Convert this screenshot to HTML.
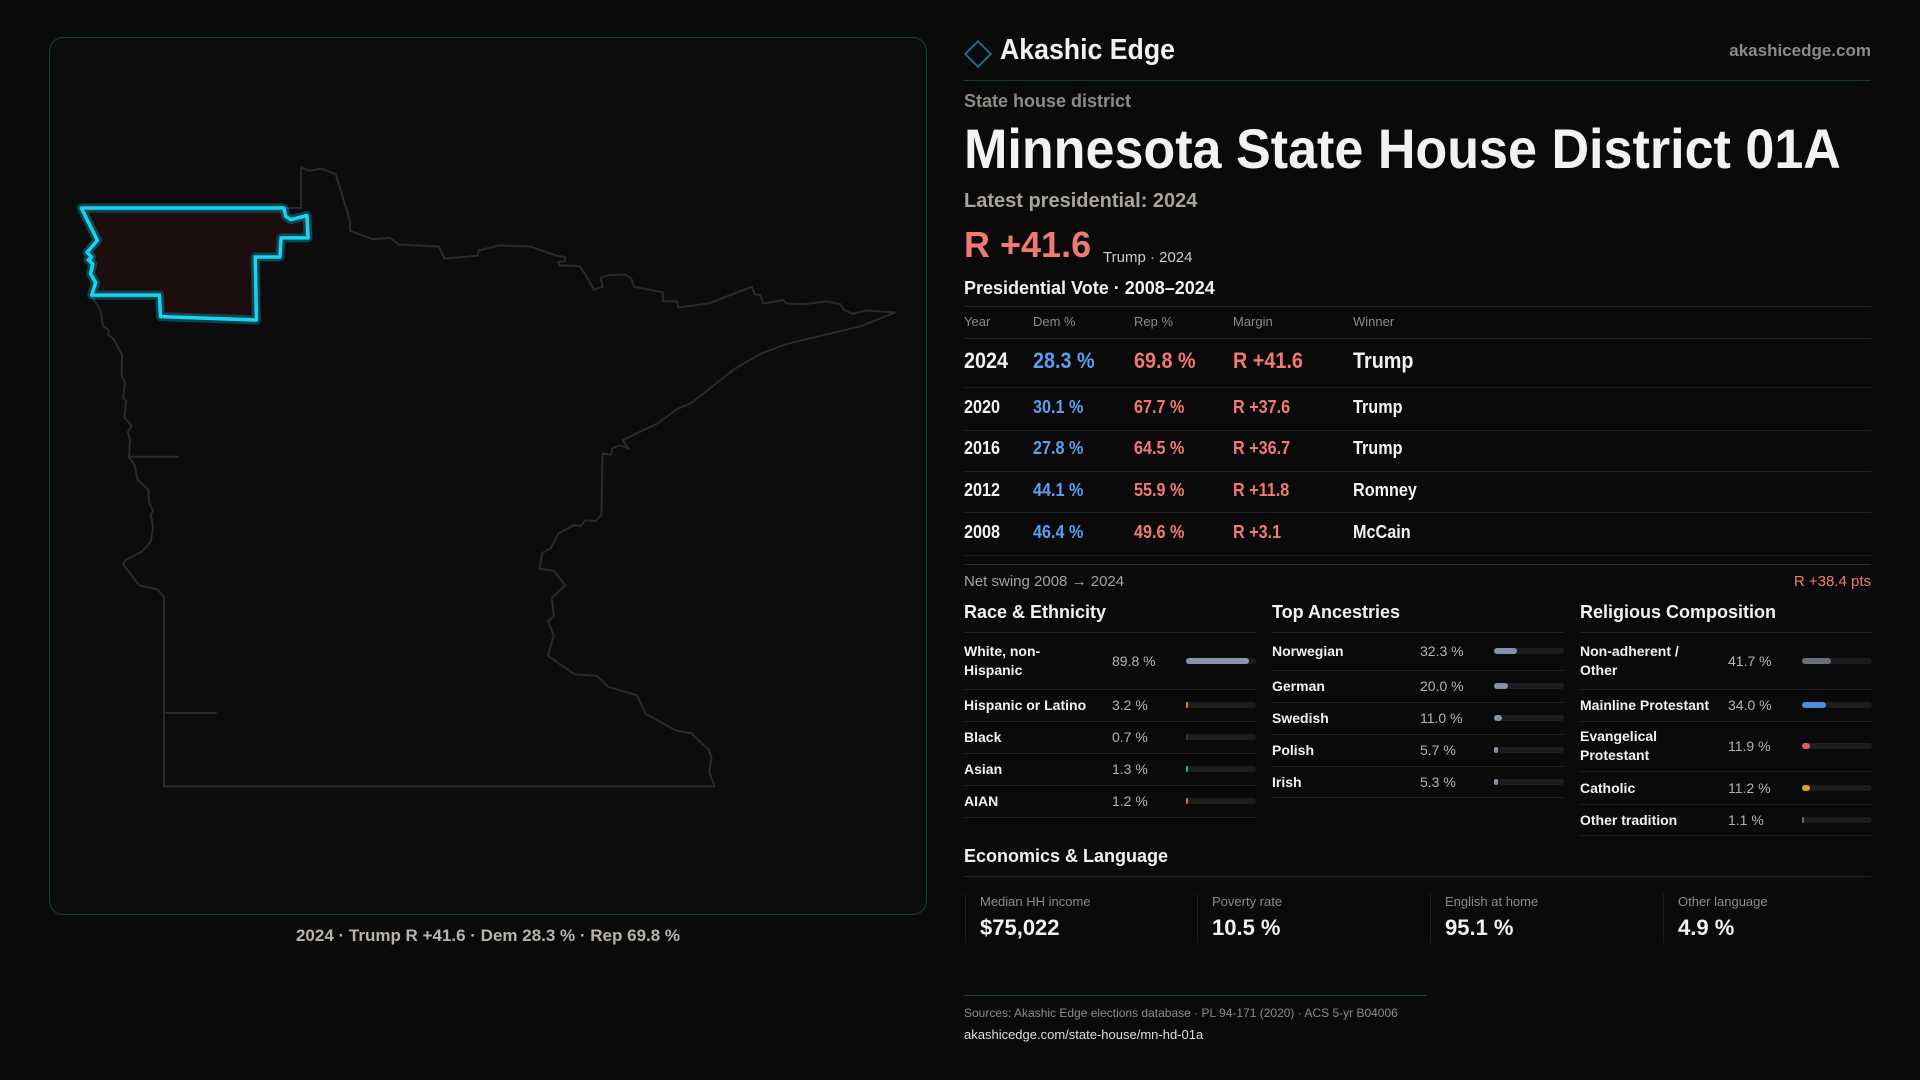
<!DOCTYPE html>
<html><head><meta charset="utf-8">
<style>
*{margin:0;padding:0;box-sizing:border-box}
body{width:1920px;height:1080px;background:#0a0a0b;font-family:"Liberation Sans",sans-serif;color:#f2f2f2;position:relative;overflow:hidden}
.a{position:absolute;white-space:nowrap}
.g{color:#a9a39d}
.red{color:#f07a72}.blue{color:#5aa0f0}
.hl{position:absolute;height:1px;background:#232326}
</style></head><body>
<div class="a" style="left:49px;top:37px;width:878px;height:878px;border:1px solid rgba(40,170,190,0.35);border-radius:14px;background:#0c0c0d"></div>
<svg class="a" style="left:0;top:0" width="1920" height="1080">
<g transform="translate(40,150) scale(0.574,0.4146)">
<path vector-effect="non-scaling-stroke" fill="none" stroke="#2a2a2c" stroke-width="2" d="M75,140 L455,140 L455,42 L470,50 L490,45 L515,58 L540,170 L540,195 L580,215 L610,212 L625,228 L695,233 L705,262 L762,255 L765,242 L800,230 L855,233 L900,255 L915,258 L915,268 L903,270 L905,278 L940,280 L950,300 L965,337 L980,330 L977,308 L990,302 L1020,300 L1030,310 L1035,330 L1085,343 L1085,365 L1110,365 L1112,380 L1165,370 L1240,330 L1245,348 L1255,350 L1260,370 L1295,362 L1300,370 L1330,372 L1370,365 L1395,372 L1400,385 L1415,395 L1440,387 L1490,392 L1430,425 L1300,468 L1255,492 L1210,528 L1135,610 L1110,625 L1075,660 L1015,700 L1025,720 L1010,712 L997,720 L995,735 L980,732 L978,880 L968,895 L950,893 L942,907 L930,905 L903,925 L890,960 L875,972 L870,1010 L895,1015 L915,1050 L892,1080 L895,1125 L885,1137 L895,1170 L885,1220 L932,1265 L970,1268 L990,1295 L1040,1315 L1055,1360 L1108,1400 L1135,1407 L1165,1447 L1170,1465 L1166,1500 L1175,1535 L216,1535 L216,1078 L205,1060 L173,1050 L145,1000 L148,990 L178,968 L193,945 L197,910 L193,880 L197,870 L190,850 L189,820 L170,795 L165,760 L155,740 L157,700 L153,680 L160,665 L147,645 L150,605 L145,598 L148,560 L142,545 L143,495 L128,455 L118,445 L120,435 L110,425 L105,385 L93,360 L88,350 M155,740 L242,740 M216,1358 L308,1358"/>
<path vector-effect="non-scaling-stroke" fill="#1c0d0e" stroke="rgba(0,200,230,0.3)" stroke-width="9" stroke-linejoin="round" d="M72,140 L425,140 L428,160 L437,168 L465,158 L467,212 L420,212 L418,258 L375,258 L377,410 L210,402 L208,350 L90,350 L97,320 L88,298 L92,275 L84,265 L90,258 L82,247 L100,218 Z"/>
<path vector-effect="non-scaling-stroke" fill="none" stroke="#19d4f0" stroke-width="3.5" stroke-linejoin="round" d="M72,140 L425,140 L428,160 L437,168 L465,158 L467,212 L420,212 L418,258 L375,258 L377,410 L210,402 L208,350 L90,350 L97,320 L88,298 L92,275 L84,265 L90,258 L82,247 L100,218 Z"/>
</g></svg>
<div class="a g" style="left:0;width:976px;text-align:center;top:925px;font-size:17px;line-height:22px;color:#b8b2ac;font-weight:bold">2024 · Trump R +41.6 · Dem 28.3 % · Rep 69.8 %</div>

<div class="a" style="left:968px;top:44px;width:20px;height:20px;border:2px solid #1f6b78;transform:rotate(45deg)"></div>
<div class="a" style="left:1000px;top:33px;font-size:29px;line-height:34px;font-weight:bold;transform:scaleX(0.92);transform-origin:left">Akashic Edge</div>
<div class="a g" style="right:49px;top:40px;font-size:17px;line-height:22px;font-weight:bold;color:#8f8a85">akashicedge.com</div>
<div class="hl" style="left:964px;width:907px;top:80px;background:#163a40"></div>
<div class="a g" style="left:964px;top:90px;font-size:18px;line-height:22px;color:#8f8a85;font-weight:bold">State house district</div>
<div class="a" style="left:964px;top:118px;font-size:56px;line-height:62px;font-weight:bold;transform:scaleX(0.93);transform-origin:left">Minnesota State House District 01A</div>
<div class="a g" style="left:964px;top:189px;font-size:20px;line-height:24px;font-weight:bold">Latest presidential: 2024</div>
<div class="a red" style="left:964px;top:224px;font-size:36px;line-height:42px;font-weight:bold">R +41.6</div>
<div class="a" style="left:1103px;top:249px;font-size:15px;line-height:18px;color:#ccc">Trump · 2024</div>
<div class="a" style="left:964px;top:277px;font-size:18px;line-height:22px;font-weight:bold">Presidential Vote · 2008–2024</div>
<div class="hl" style="left:964px;width:907px;top:306px"></div>
<div id="tbl"></div>
<div class="hl" style="left:964px;width:907px;top:564px;background:#2a2a2d"></div>
<div class="a g" style="left:964px;top:573px;font-size:15px;line-height:18px">Net swing 2008 → 2024</div>
<div class="a red" style="right:49px;top:573px;font-size:15px;line-height:18px">R +38.4 pts</div>
<div id="demo"></div>
<div class="a" style="left:964px;top:845px;font-size:18px;line-height:22px;font-weight:bold">Economics &amp; Language</div>
<div class="hl" style="left:964px;width:907px;top:876px"></div>
<div id="econ"></div>
<div class="hl" style="left:964px;width:463px;top:995px;background:#163a40"></div>
<div class="a" style="left:964px;top:1006px;font-size:12px;line-height:15px;color:#8f8a85">Sources: Akashic Edge elections database · PL 94-171 (2020) · ACS 5-yr B04006</div>
<div class="a" style="left:964px;top:1027px;font-size:13px;line-height:16px;color:#ddd">akashicedge.com/state-house/mn-hd-01a</div>
<script>
const years=["2024","2020","2016","2012","2008"];
const demPct=[28.3,30.1,27.8,44.1,46.4];
const repPct=[69.8,67.7,64.5,55.9,49.6];
const margins=[41.6,37.6,36.7,11.8,3.1];
const winners=["Trump","Trump","Trump","Romney","McCain"];
const raceLabels=["White, non-Hispanic","Hispanic or Latino","Black","Asian","AIAN"];
const raceValues=[89.8,3.2,0.7,1.3,1.2];
const ancLabels=["Norwegian","German","Swedish","Polish","Irish"];
const ancValues=[32.3,20.0,11.0,5.7,5.3];
const relLabels=["Non-adherent / Other","Mainline Protestant","Evangelical Protestant","Catholic","Other tradition"];
const relValues=[41.7,34.0,11.9,11.2,1.1];
const econLabels=["Median HH income","Poverty rate","English at home","Other language"];
const econValues=["$75,022","10.5 %","95.1 %","4.9 %"];

function mk(parent,css,txt){const d=document.createElement('div');d.className='a';d.style.cssText=css;if(txt!==undefined)d.textContent=txt;parent.appendChild(d);return d;}
const tbl=document.getElementById('tbl');
const cols=[964,1033,1134,1233,1353];
["Year","Dem %","Rep %","Margin","Winner"].forEach((h,i)=>{
  const e=mk(tbl,`left:${cols[i]}px;top:314px;font-size:13px;line-height:16px;color:#8f8a85`,h);
  
  
});
const rl=mk(tbl,'left:964px;width:907px;top:338px;height:1px;background:#232326');


const rowCenters=[361,408,449,491,533];
const rowRules=[387,430,471,512,555];
years.forEach((y,i)=>{
  const fs=i===0?22:18, c=rowCenters[i], t=c-fs*0.6;
  const cells=[[y,'#f2f2f2'],[demPct[i].toFixed(1)+' %','#5aa0f0'],[repPct[i].toFixed(1)+' %','#f07a72'],['R +'+margins[i].toFixed(1),'#f07a72'],[winners[i],'#f2f2f2']];
  cells.forEach((cv,j)=>{
    const e=mk(tbl,`left:${cols[j]}px;top:${t}px;font-size:${fs}px;line-height:${fs*1.2}px;font-weight:bold;color:${cv[1]};transform:scaleX(0.9);transform-origin:left`,cv[0]);
    
    
  });
  const r=mk(tbl,`left:964px;width:907px;top:${rowRules[i]}px;height:1px;background:#1e1e21`);
  
  
});

const demo=document.getElementById('demo');
function panel(x,title,labels,values,colors,rules,slug){
  const h=mk(demo,`left:${x}px;top:601px;font-size:18px;line-height:22px;font-weight:bold`,title);
  
  
  const hr=mk(demo,`left:${x}px;width:292px;top:632px;height:1px;background:#232326`);
  
  
  labels.forEach((lab,i)=>{
    const top=rules[i],bot=rules[i+1],c=(top+bot)/2;
    const two=(bot-top)>40;
    const l=mk(demo,`left:${x}px;top:${c-(two?19:9)}px;width:${two?120:145}px;white-space:normal;font-size:14px;line-height:19px;font-weight:bold;color:#f2f2f2`,lab);
    
    
    const v=mk(demo,`left:${x+148}px;top:${c-9}px;font-size:14px;line-height:18px;color:#b8b2ac`,values[i].toFixed(1)+' %');
    
    
    const tr=mk(demo,`left:${x+222}px;top:${c-3}px;width:70px;height:6px;border-radius:3px;background:#1d1d20`);
    
    
    const w=Math.max(2,values[i]/100*70);
    const b=mk(demo,`left:${x+222}px;top:${c-3}px;width:${w}px;height:6px;border-radius:3px;background:${colors[i]}`);
    
    
    const rr=mk(demo,`left:${x}px;width:292px;top:${bot}px;height:1px;background:#1e1e21`);
    
    
  });
}
panel(964,"Race & Ethnicity",raceLabels,raceValues,["#8a96a8","#d08a30","#333","#2fb58a","#d07a30"],[632,689,721,753,785,817],'race');
panel(1272,"Top Ancestries",ancLabels,ancValues,["#8592a6","#8592a6","#8592a6","#8592a6","#8592a6"],[632,670,702,734,766,797],'ancestry');
panel(1580,"Religious Composition",relLabels,relValues,["#6a6f7a","#4a8ee0","#e05a5a","#e0a020","#6a6f7a"],[632,689,721,771,804,835],'religion');

const econ=document.getElementById('econ');
const ex=[965,1197,1430,1663];
econLabels.forEach((l,i)=>{
  const bd=mk(econ,`left:${ex[i]}px;top:894px;width:1px;height:49px;background:#1e1e21`);
  
  
  const a=mk(econ,`left:${ex[i]+15}px;top:894px;font-size:13px;line-height:16px;color:#8f8a85`,l);
  
  
  const b=mk(econ,`left:${ex[i]+15}px;top:915px;font-size:22px;line-height:26px;font-weight:bold`,econValues[i]);
  
  
});
</script>
</body></html>
